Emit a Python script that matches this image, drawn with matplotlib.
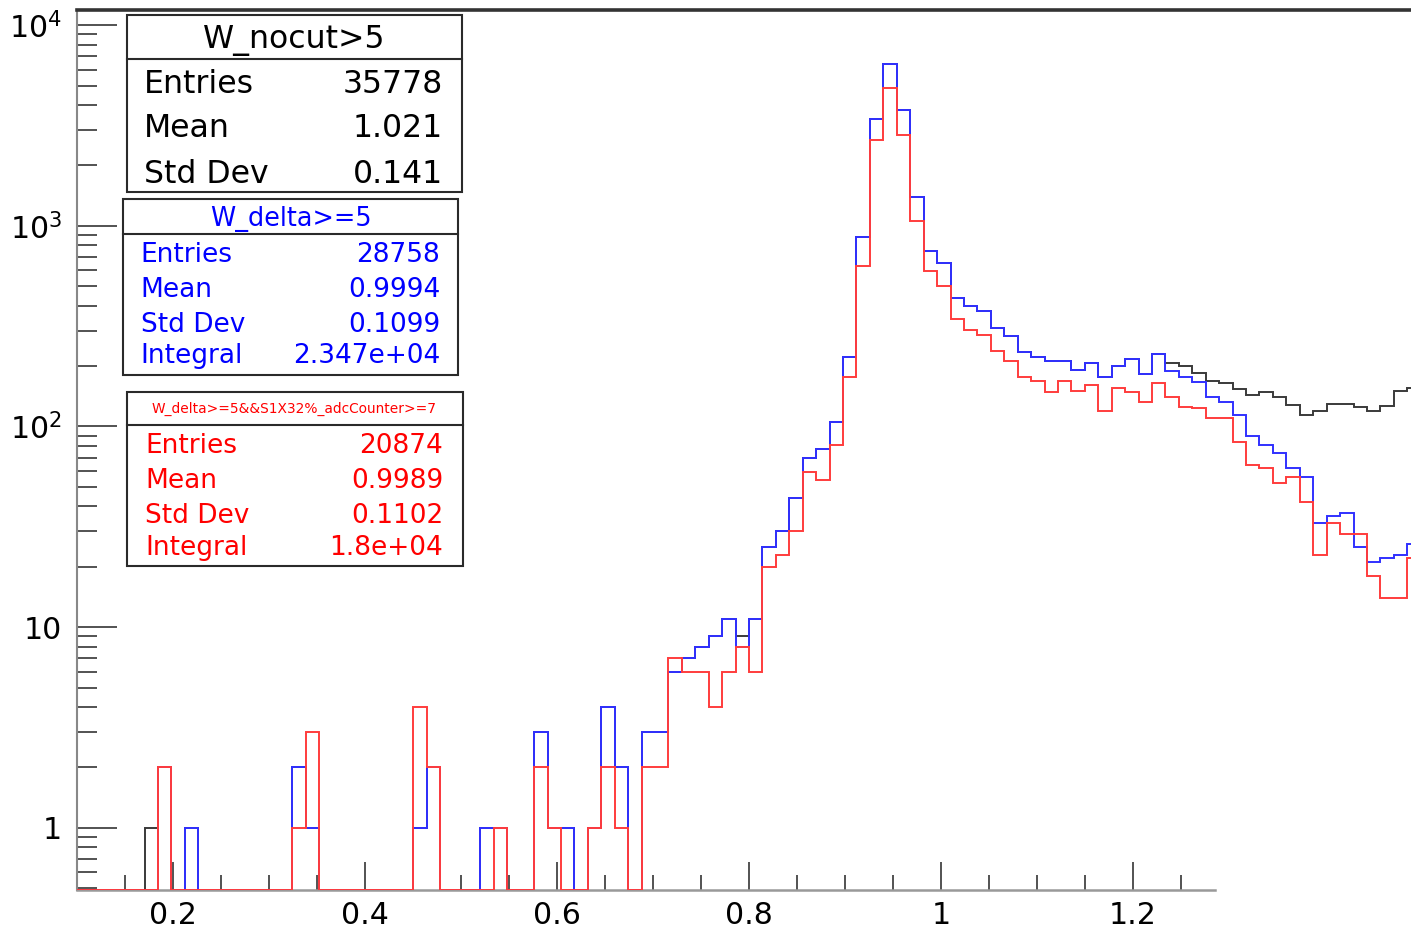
import numpy as np
import matplotlib
matplotlib.use("Agg")
import matplotlib.pyplot as plt
from matplotlib.patches import Rectangle
from matplotlib.lines import Line2D
from matplotlib.ticker import FixedLocator, FixedFormatter, NullFormatter

plt.rcParams['font.family'] = ['DejaVu Sans']
plt.rcParams['mathtext.fontset'] = 'dejavusans'

# ---- binning: 100 bins between 0.1 and 1.5 ----
x_low, x_high, n_bins = 0.1, 1.5, 100

# ---- bin contents ----
w_nocut = [
    0, 0, 0, 0, 0, 1, 2, 0, 1, 0,
    0, 0, 0, 0, 0, 0, 2, 1, 0, 0,
    0, 0, 0, 0, 0, 1, 2, 0, 0, 0,
    1, 1, 0, 0, 3, 1, 1, 0, 1, 4,
    2, 0, 3, 3, 6, 7, 8, 9, 11, 9,
    11, 25, 30, 44, 70, 77, 105, 223, 877, 3406,
    6398, 3776, 1398, 747, 654, 437, 400, 378, 310, 281,
    234, 223, 212, 212, 192, 208, 177, 199, 217, 183,
    230, 207, 199, 184, 168, 164, 154, 144, 148, 141,
    128, 114, 119, 130, 130, 125, 120, 126, 151, 155,
]

w_delta = [
    0, 0, 0, 0, 0, 0, 2, 0, 1, 0,
    0, 0, 0, 0, 0, 0, 2, 1, 0, 0,
    0, 0, 0, 0, 0, 1, 2, 0, 0, 0,
    1, 1, 0, 0, 3, 1, 1, 0, 1, 4,
    2, 0, 3, 3, 6, 7, 8, 9, 11, 8,
    11, 25, 30, 44, 70, 77, 105, 223, 877, 3406,
    6398, 3776, 1398, 747, 654, 437, 400, 378, 310, 281,
    234, 223, 212, 212, 192, 208, 177, 199, 217, 183,
    230, 188, 177, 166, 141, 132, 114, 90, 81, 74,
    62, 56, 33, 36, 37, 25, 21, 22, 23, 26,
]

w_delta_adc = [
    0, 0, 0, 0, 0, 0, 2, 0, 0, 0,
    0, 0, 0, 0, 0, 0, 1, 3, 0, 0,
    0, 0, 0, 0, 0, 4, 2, 0, 0, 0,
    0, 1, 0, 0, 2, 1, 0, 0, 1, 2,
    1, 0, 2, 2, 7, 6, 6, 4, 6, 8,
    6, 20, 23, 30, 59, 54, 81, 177, 631, 2679,
    4877, 2838, 1060, 596, 500, 345, 303, 284, 237, 211,
    177, 169, 149, 169, 150, 160, 119, 155, 149, 133,
    164, 141, 125, 124, 110, 110, 84, 64, 62, 52,
    56, 42, 23, 33, 29, 29, 18, 14, 14, 22,
]

# ---- axis ticks ----
x_major_ticks = [0.2, 0.4, 0.6, 0.8, 1.0, 1.2]
x_major_labels = ['0.2', '0.4', '0.6', '0.8', '1', '1.2']
y_major_ticks = [1, 10, 100, 1000, 10000]
y_major_labels = ['1', '10', r'$\mathregular{10^{2}}$',
                  r'$\mathregular{10^{3}}$', r'$\mathregular{10^{4}}$']

# ---- statistics boxes ----
box_titles = ['W_nocut>5', 'W_delta>=5', 'W_delta>=5&&S1X32%_adcCounter>=7']
box_labels = [['Entries', 'Mean', 'Std Dev'],
              ['Entries', 'Mean', 'Std Dev', 'Integral'],
              ['Entries', 'Mean', 'Std Dev', 'Integral']]
box_values = [['35778', '1.021', '0.141'],
              ['28758', '0.9994', '0.1099', '2.347e+04'],
              ['20874', '0.9989', '0.1102', '1.8e+04']]

series = [w_nocut, w_delta, w_delta_adc]
colors = ['#3a3a3a', '#3030ff', '#ff3c3c']

W, H = 1411, 935
y_min, y_max = 0.49, 11890

fig = plt.figure(figsize=(W / 100, H / 100), dpi=100)
ax = fig.add_axes([77.35 / W, 1 - 890 / H, (1420.7 - 77.35) / W, 880 / H])

edges = np.linspace(x_low, x_high, n_bins + 1)
for vals, col in zip(series, colors):
    v = np.asarray(vals, dtype=float)
    drawn = np.where(v > 0, v, y_min)
    ax.stairs(drawn, edges, baseline=None, color=col, lw=1.4, zorder=3)

ax.set_yscale('log')
ax.set_xlim(x_low, x_high)
ax.set_ylim(y_min, y_max)

ax.xaxis.set_major_locator(FixedLocator(x_major_ticks))
ax.xaxis.set_major_formatter(FixedFormatter(x_major_labels))
x_minor = [round(0.15 + 0.05 * i, 2) for i in range(23)]
x_minor = [t for t in x_minor if all(abs(t - m) > 1e-6 for m in x_major_ticks)]
ax.xaxis.set_minor_locator(FixedLocator(x_minor))
ax.xaxis.set_minor_formatter(NullFormatter())

ax.yaxis.set_major_locator(FixedLocator(y_major_ticks))
ax.yaxis.set_major_formatter(FixedFormatter(y_major_labels))
y_minor = [k * 10.0 ** n for n in range(-1, 4) for k in range(2, 10)]
y_minor = [t for t in y_minor if y_min <= t <= y_max]
ax.yaxis.set_minor_locator(FixedLocator(y_minor))
ax.yaxis.set_minor_formatter(NullFormatter())

tick_col = '#444444'
ax.tick_params(axis='x', which='major', direction='in', length=20, width=1.3,
               color=tick_col, labelsize=21.6, pad=8, top=False)
ax.tick_params(axis='x', which='minor', direction='in', length=10.8, width=1.3,
               color=tick_col, top=False)
ax.tick_params(axis='y', which='major', direction='in', length=28.8, width=1.3,
               color=tick_col, labelsize=21.6, pad=11, right=False)
ax.tick_params(axis='y', which='minor', direction='in', length=14.4, width=1.3,
               color=tick_col, right=False)

ax.spines['top'].set_color('#333333')
ax.spines['top'].set_linewidth(2.6)
ax.spines['left'].set_color('#888888')
ax.spines['left'].set_linewidth(1.5)
ax.spines['bottom'].set_color('#999999')
ax.spines['bottom'].set_linewidth(1.8)
ax.spines['bottom'].set_bounds(x_low, 1.286)
ax.spines['right'].set_visible(False)


def fx(px):
    return px / W


def fy(py):
    return 1 - py / H


def stat_box(x0, y0, x1, y1, ydiv, title, title_x, title_base, title_size,
             labels, values, label_x, value_x, baselines, size, color):
    fig.add_artist(Rectangle((fx(x0), fy(y1)), (x1 - x0) / W, (y1 - y0) / H,
                             transform=fig.transFigure, facecolor='white',
                             edgecolor='#2a2a2a', lw=1.5, zorder=10))
    fig.add_artist(Line2D([fx(x0), fx(x1)], [fy(ydiv), fy(ydiv)],
                          transform=fig.transFigure, color='#2a2a2a',
                          lw=1.5, zorder=11))
    fig.text(fx(title_x), fy(title_base), title, ha='center', va='baseline',
             fontsize=title_size, color=color, zorder=12)
    for lab, val, yb in zip(labels, values, baselines):
        fig.text(fx(label_x), fy(yb), lab, ha='left', va='baseline',
                 fontsize=size, color=color, zorder=12)
        fig.text(fx(value_x), fy(yb), val, ha='right', va='baseline',
                 fontsize=size, color=color, zorder=12)


stat_box(127, 15, 461.7, 191.7, 59.3, box_titles[0], 294, 48.3, 22.7,
         box_labels[0], box_values[0], 144, 443, [93.3, 136.7, 182.7],
         22.7, '#000000')
stat_box(123.3, 199, 458.3, 375, 234.3, box_titles[1], 290.8, 225.7, 18.4,
         box_labels[1], box_values[1], 140.7, 440, [261.7, 296.7, 331.7, 363.3],
         19.0, '#0000ff')
stat_box(127.3, 391.7, 462.7, 565.7, 425, box_titles[2], 294.2, 413, 9.9,
         box_labels[2], box_values[2], 145, 443.3, [453.3, 488.3, 523.3, 555],
         19.0, '#ff0000')

fig.savefig('out.png', dpi=100)
